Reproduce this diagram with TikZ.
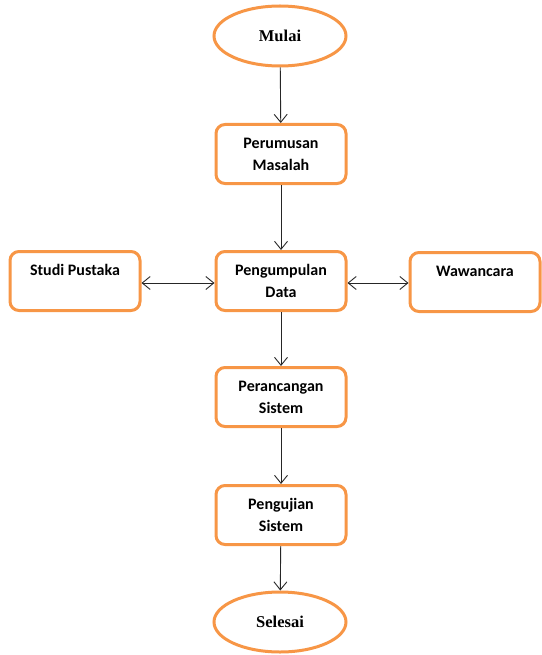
\documentclass[tikz,border=0pt]{standalone}
\usepackage{fontspec}
\setmainfont{Carlito}
\newfontfamily\judulfont{Liberation Serif}
\usetikzlibrary{arrows.meta,shapes.geometric}
\definecolor{oranye}{HTML}{F79646}

\begin{document}
\begin{tikzpicture}[x=1pt,y=-1pt,
		kotak/.style={draw=oranye,line width=3pt,rounded corners=9pt,fill=white,
			minimum width=130pt,minimum height=59pt,align=center,
			font=\bfseries\fontsize{16}{22}\selectfont,inner sep=2pt},
		oval/.style={draw=oranye,line width=3pt,ellipse,fill=white,
			minimum width=132pt,minimum height=60pt,
			font=\judulfont\bfseries\fontsize{16.5}{20}\selectfont},
		panah/.style={draw=black!85,line width=0.9pt,-{Straight Barb[length=8pt,width=13pt]}},
		panahdua/.style={draw=black!85,line width=0.9pt,{Straight Barb[length=8pt,width=13pt]}-{Straight Barb[length=8pt,width=13pt]}}]
	\useasboundingbox (0,0) rectangle (541,655);
	% bentuk-bentuk
	\node[oval] (mulai) at (280,36) {Mulai};
	\node[kotak] (rumus) at (281,154) {Perumusan\\Masalah};
	\node[kotak] (kumpul) at (281,281) {Pengumpulan\\Data};
	\node[kotak] (studi) at (75,281) {Studi Pustaka\\~};
	\node[kotak] (wawan) at (475,282) {Wawancara\\~};
	\node[kotak] (rancang) at (281,397) {Perancangan\\Sistem};
	\node[kotak] (uji) at (281,515) {Pengujian\\Sistem};
	\node[oval] (selesai) at (280,622) {Selesai};
	% panah
	\draw[panah] (mulai) -- (rumus);
	\draw[panah] (rumus) -- (kumpul);
	\draw[panahdua] (studi.east |- 0,283) -- (kumpul.west |- 0,283);
	\draw[panahdua] (kumpul.east |- 0,283) -- (wawan.west |- 0,283);
	\draw[panah] (kumpul) -- (rancang);
	\draw[panah] (rancang) -- (uji);
	\draw[panah] (uji) -- (selesai);
\end{tikzpicture}
\end{document}
